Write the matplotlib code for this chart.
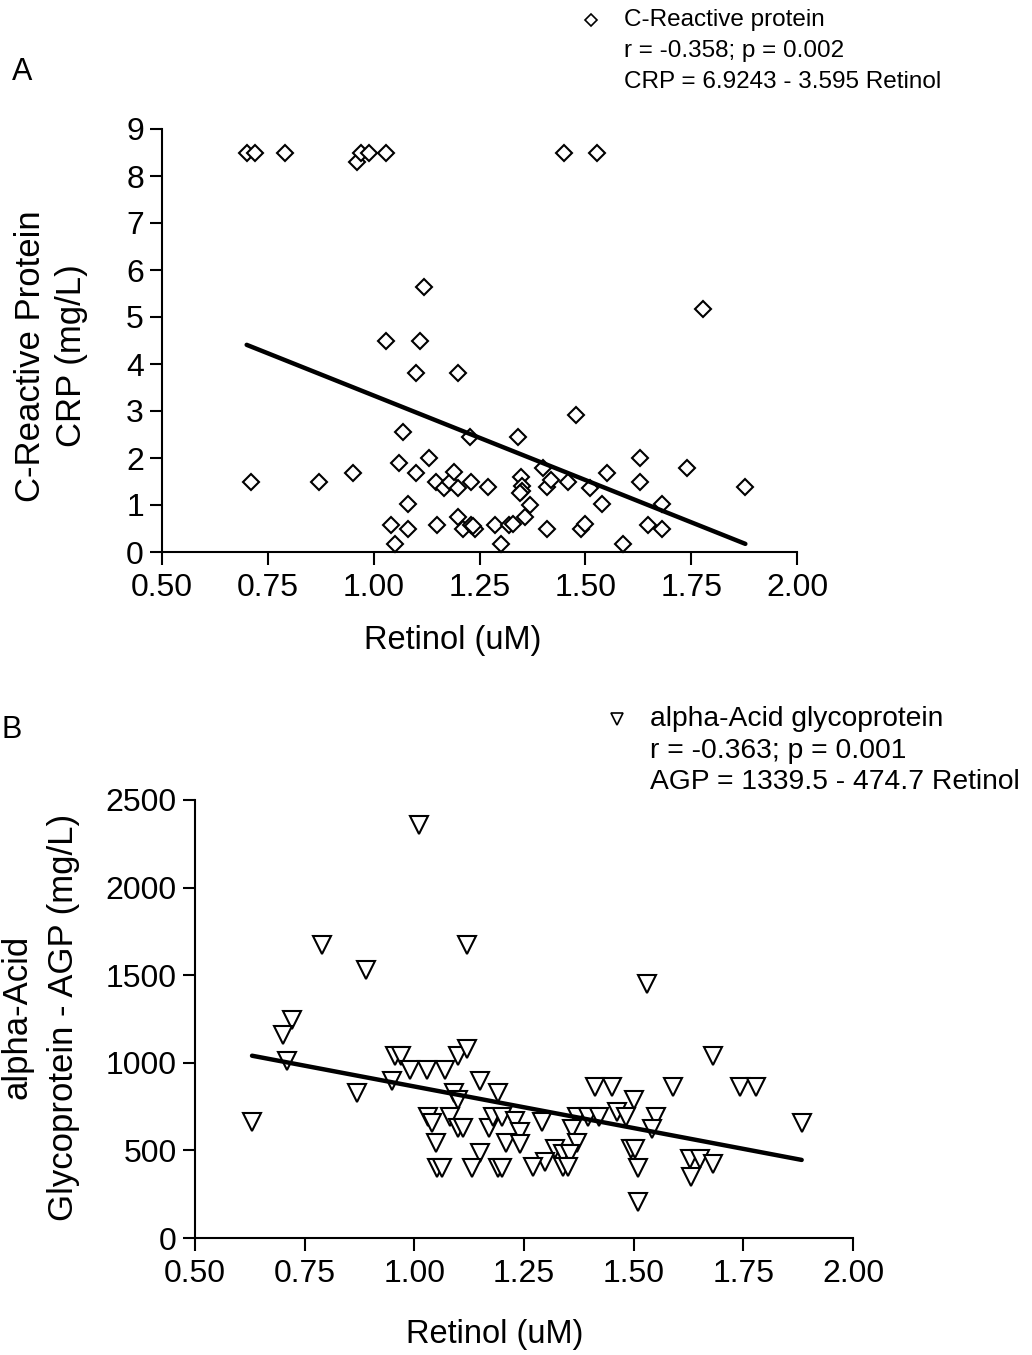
import matplotlib
matplotlib.use("Agg")
import matplotlib.pyplot as plt
import numpy as np
from matplotlib.lines import Line2D

plt.rcParams["font.family"] = ["Liberation Sans", "DejaVu Sans"]

# panel A: retinol (uM) vs C-reactive protein (mg/L)
crp_retinol = [
    0.70, 0.72, 0.79, 0.96, 0.97, 0.99, 1.03, 1.449, 1.528,
    1.12, 1.778, 1.03, 1.11, 1.10, 1.20, 1.479, 1.07, 1.228, 1.34,
    0.71, 0.87, 0.95, 1.06, 1.13, 1.10, 1.148, 1.167, 1.18, 1.19,
    1.20, 1.23, 1.27, 1.08, 1.04, 1.08, 1.15, 1.20, 1.21, 1.23,
    1.24, 1.05, 1.287, 1.30,
    1.628, 1.739, 1.878, 1.349, 1.35, 1.35, 1.345, 1.37, 1.358, 1.40,
    1.41, 1.42, 1.46, 1.51, 1.55, 1.628, 1.54, 1.68, 1.647, 1.68,
    1.49, 1.50, 1.41, 1.589, 1.32, 1.33, 1.235,
]
crp_values = [
    8.5, 8.5, 8.5, 8.3, 8.5, 8.5, 8.5, 8.5, 8.5,
    5.64, 5.18, 4.49, 4.49, 3.80, 3.80, 2.91, 2.56, 2.44, 2.45,
    1.50, 1.50, 1.69, 1.90, 1.99, 1.69, 1.50, 1.36, 1.50, 1.71,
    1.36, 1.50, 1.38, 1.02, 0.57, 0.50, 0.57, 0.75, 0.50, 0.57,
    0.50, 0.18, 0.57, 0.18,
    1.99, 1.78, 1.38, 1.60, 1.40, 1.30, 1.25, 1.00, 0.74, 1.78,
    1.39, 1.53, 1.48, 1.36, 1.69, 1.50, 1.02, 1.02, 0.57, 0.50,
    0.50, 0.59, 0.50, 0.18, 0.57, 0.60, 0.55,
]
crp_fit = (6.9243, -3.595)
crp_legend = ["C-Reactive protein", "r = -0.358; p = 0.002",
              "CRP = 6.9243 - 3.595 Retinol"]

# panel B: retinol (uM) vs alpha-acid glycoprotein (mg/L)
agp_retinol = [
    1.01, 0.79, 1.12, 0.89, 0.72, 0.70, 0.71, 0.63, 0.87, 0.948,
    0.956, 0.969, 0.99, 1.028, 1.07, 1.10, 1.12, 1.15, 1.19, 1.09,
    1.10, 1.032, 1.04, 1.081, 1.10, 1.11, 1.17, 1.18, 1.20, 1.23,
    1.05, 1.21, 1.15, 1.051, 1.062, 1.131, 1.19, 1.199,
    1.531, 1.681, 1.412, 1.45, 1.59, 1.742, 1.78, 1.883, 1.50, 1.461,
    1.482, 1.552, 1.541, 1.371, 1.397, 1.42, 1.359, 1.371, 1.32, 1.34,
    1.355, 1.34, 1.351, 1.298, 1.27, 1.29, 1.24, 1.24, 1.495, 1.503,
    1.51, 1.51, 1.628, 1.651, 1.68, 1.63,
]
agp_values = [
    2360, 1675, 1675, 1530, 1246, 1160, 1008, 662, 827, 897,
    1040, 1040, 960, 960, 960, 1040, 1080, 897, 827, 827,
    789, 690, 656, 690, 627, 627, 627, 690, 690, 665,
    542, 542, 485, 399, 399, 399, 399, 399,
    1450, 1038, 861, 861, 861, 861, 861, 658, 789, 722,
    690, 690, 623, 690, 690, 690, 623, 543, 509, 481,
    481, 405, 405, 434, 405, 662, 605, 538, 509, 509,
    399, 205, 449, 449, 424, 348,
]
agp_fit = (1339.5, -474.7)
agp_legend = ["alpha-Acid glycoprotein", "r = -0.363; p = 0.001",
              "AGP = 1339.5 - 474.7 Retinol"]

x_ticks = [0.50, 0.75, 1.00, 1.25, 1.50, 1.75, 2.00]

W, H = 1032, 1355


def px(x, y):
    """pixel position -> figure fraction"""
    return x / W, 1 - y / H


def style_axes(ax, yticks):
    ax.spines["top"].set_visible(False)
    ax.spines["right"].set_visible(False)
    for side in ("left", "bottom"):
        ax.spines[side].set_linewidth(1.5)
    ax.set_xlim(0.5, 2.0)
    ax.set_xticks(x_ticks)
    ax.set_xticklabels([f"{t:.2f}" for t in x_ticks])
    ax.set_yticks(yticks)
    ax.tick_params(axis="both", direction="out", length=9, width=1.5,
                   labelsize=23)
    ax.tick_params(axis="x", pad=6)
    ax.tick_params(axis="y", pad=4)


def draw_panel(ax, xs, ys, fit, marker, msize):
    ax.plot(xs, ys, linestyle="none", marker=marker, markersize=msize,
            markerfacecolor="white", markeredgecolor="black",
            markeredgewidth=1.5, clip_on=False, zorder=3)
    xfit = np.array([min(xs), max(xs)])
    ax.plot(xfit, fit[0] + fit[1] * xfit, color="black", linewidth=3.2,
            solid_capstyle="round", zorder=4)


def draw_legend(fig, marker, msize, mx, my, tx, lines, size, step):
    x, y = px(mx, my)
    fig.add_artist(Line2D([x], [y], marker=marker, markersize=msize,
                          markerfacecolor="white", markeredgecolor="black",
                          markeredgewidth=1.2, transform=fig.transFigure))
    for i, line in enumerate(lines):
        fig.text(*px(tx, my + i * step), line, fontsize=size,
                 ha="left", va="center")


fig = plt.figure(figsize=(W / 100, H / 100), dpi=100)

# ---- panel A
axA = fig.add_axes([162 / W, 1 - 552 / H, (797 - 162) / W, (552 - 129) / H])
draw_panel(axA, crp_retinol, crp_values, crp_fit, "D", 8.5)
style_axes(axA, range(0, 10))
axA.set_ylim(0, 9)

fig.text(*px(22, 72), "A", fontsize=22, ha="center", va="center")
fig.text(*px(31, 356), "C-Reactive Protein", fontsize=25, rotation=90,
         ha="center", va="center")
fig.text(*px(71, 356), "CRP (mg/L)", fontsize=25, rotation=90,
         ha="center", va="center")
fig.text(*px(453, 640), "Retinol (uM)", fontsize=23.5, ha="center",
         va="center")
draw_legend(fig, "D", 6, 591, 20, 624, crp_legend, 17.5, 31)

# ---- panel B
axB = fig.add_axes([195 / W, 1 - 1238 / H, (853 - 195) / W, (1238 - 800) / H])
draw_panel(axB, agp_retinol, agp_values, agp_fit, "v", 13)
style_axes(axB, range(0, 2501, 500))
axB.set_ylim(0, 2500)

fig.text(*px(1, 730), "B", fontsize=22, ha="left", va="center")
fig.text(*px(17, 1017), "alpha-Acid", fontsize=25, rotation=90,
         ha="center", va="center")
fig.text(*px(64, 1017), "Glycoprotein - AGP (mg/L)", fontsize=25,
         rotation=90, ha="center", va="center")
fig.text(*px(495, 1335), "Retinol (uM)", fontsize=23.5, ha="center",
         va="center")
draw_legend(fig, "v", 9, 617, 719, 650, agp_legend, 20.3, 31.5)

fig.savefig("out.png", dpi=100)
